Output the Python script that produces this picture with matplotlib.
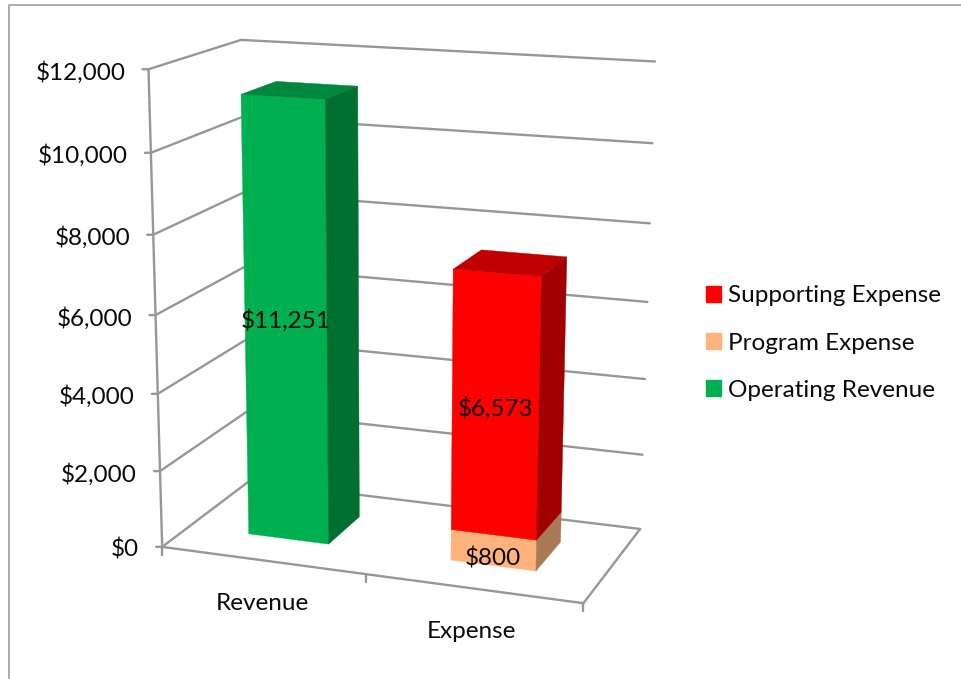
import numpy as np
import matplotlib
matplotlib.use("Agg")
import matplotlib.pyplot as plt
from matplotlib.patches import Patch

plt.rcParams['font.family'] = ['Lato', 'DejaVu Sans']

# ----- chart values -----
categories = ['Revenue', 'Expense']
operating_revenue = [11251, 0]
program_expense = [0, 800]
supporting_expense = [0, 6573]
y_ticks = [0, 2000, 4000, 6000, 8000, 10000, 12000]
y_max = 12000

# colors: front, top, side
green = ['#00B050', '#00883E', '#007030']
peach = ['#FFB27C', '#C98C60', '#A97B55']
red = ['#FF0000', '#C00000', '#A00000']
grid_col = '#979797'
text_col = '#0a0a0a'
font_size = 17.5

# ----- camera: fit a projection from box corners seen in the picture -----
# world = (u across, v depth, h height), all 0..1
world = [(0, 0, 1), (0, 0, 0), (0, 1, 1), (0, 1, 0), (1, 0, 0), (1, 1, 0), (1, 1, 1),
         (0, 0, 5/6), (0, 0, 4/6), (0, 0, 3/6), (0, 0, 2/6), (0, 0, 1/6),
         (1, 1, 5/6), (1, 1, 4/6), (1, 1, 3/6), (1, 1, 2/6), (1, 1, 1/6)]
screen = [(148, 70), (163, 547), (241.5, 40), (248, 482), (583, 604), (640, 528), (655, 62),
          (150.5, 153), (153, 233), (155.5, 315), (158, 394), (160.5, 471),
          (652.5, 143), (650, 223), (647.5, 302), (645, 379), (642.5, 455)]


def fit_camera(world, screen):
    A = []
    b = []
    for (X, Y, Z), (x, y) in zip(world, screen):
        A.append([X, Y, Z, 1, 0, 0, 0, 0, -x*X, -x*Y, -x*Z])
        b.append(x)
        A.append([0, 0, 0, 0, X, Y, Z, 1, -y*X, -y*Y, -y*Z])
        b.append(y)
    p = np.linalg.lstsq(np.array(A, dtype=float), np.array(b, dtype=float), rcond=None)[0]
    return np.append(p, 1).reshape(3, 4)


P = fit_camera(world, screen)


def proj(u, v, val):
    q = P @ np.array([u, v, val / y_max, 1.0])
    return q[0] / q[2], q[1] / q[2]


def box(ax, u0, u1, v0, v1, low, high, cols):
    front = [proj(u0, v0, low), proj(u1, v0, low), proj(u1, v0, high), proj(u0, v0, high)]
    side = [proj(u1, v0, low), proj(u1, v1, low), proj(u1, v1, high), proj(u1, v0, high)]
    top = [proj(u0, v0, high), proj(u1, v0, high), proj(u1, v1, high), proj(u0, v1, high)]
    for pts, c in zip([front, top, side], cols):
        ax.fill(*zip(*pts), color=c, lw=0.3, zorder=3)


def line(ax, pts, col=grid_col, lw=1.7):
    ax.plot(*zip(*pts), color=col, lw=lw, solid_capstyle='round', zorder=2)


fig = plt.figure(figsize=(9.61, 6.79), dpi=100)
ax = fig.add_axes([0, 0, 1, 1])
ax.set_xlim(0, 961)
ax.set_ylim(679, 0)
ax.axis('off')

# outer frame, only top and left show
line(ax, [(9, 679), (9, 4.5), (961, 4.5)], col='#a6a6a6', lw=1.3)

# walls
for t in y_ticks:
    a = proj(0, 0, t)
    line(ax, [(a[0] - 6, a[1]), a, proj(0, 1, t), proj(1, 1, t)])
    ax.text(a[0] - 23, a[1] + 3, '${:,}'.format(t), ha='right', va='center',
            fontsize=font_size, color=text_col)
line(ax, [proj(0, 0, 0), proj(0, 0, y_max)])

# floor
line(ax, [proj(0, 0, 0), proj(1, 0, 0), proj(1, 1, 0)])
for u in [0, 0.5, 1]:
    a = proj(u, 0, 0)
    line(ax, [a, (a[0], a[1] + 8)])

# bars
bar_u = [0.2515, 0.749]
bar_w = 0.2
v0, v1 = 0.30, 0.70
for i, name in enumerate(categories):
    u0, u1 = bar_u[i] - bar_w / 2, bar_u[i] + bar_w / 2
    base = 0
    stack = [(operating_revenue, green, -3), (program_expense, peach, 8), (supporting_expense, red, 3)]
    for vals, cols, dy in stack:
        if vals[i] == 0:
            continue
        box(ax, u0, u1, v0, v1, base, base + vals[i], cols)
        c = proj((u0 + u1) / 2, v0, base + vals[i] / 2)
        ax.text(c[0], c[1] + dy, '${:,}'.format(vals[i]), ha='center', va='center',
                fontsize=font_size, color=text_col, zorder=5)
        base += vals[i]
    a = proj(bar_u[i], 0, 0)
    ax.text(a[0] - 1, a[1] + 43, name, ha='center', va='center', fontsize=font_size, color=text_col)

# legend
handles = [Patch(color=red[0], label='Supporting Expense'),
           Patch(color=peach[0], label='Program Expense'),
           Patch(color=green[0], label='Operating Revenue')]
ax.legend(handles=handles, loc='center left', bbox_to_anchor=(706, 343), bbox_transform=ax.transData,
          frameon=False, fontsize=font_size, handlelength=0.62, handleheight=0.62, handletextpad=0.28,
          labelspacing=1.07, labelcolor=text_col, borderpad=0, borderaxespad=0)

fig.savefig('out.png', dpi=100)
